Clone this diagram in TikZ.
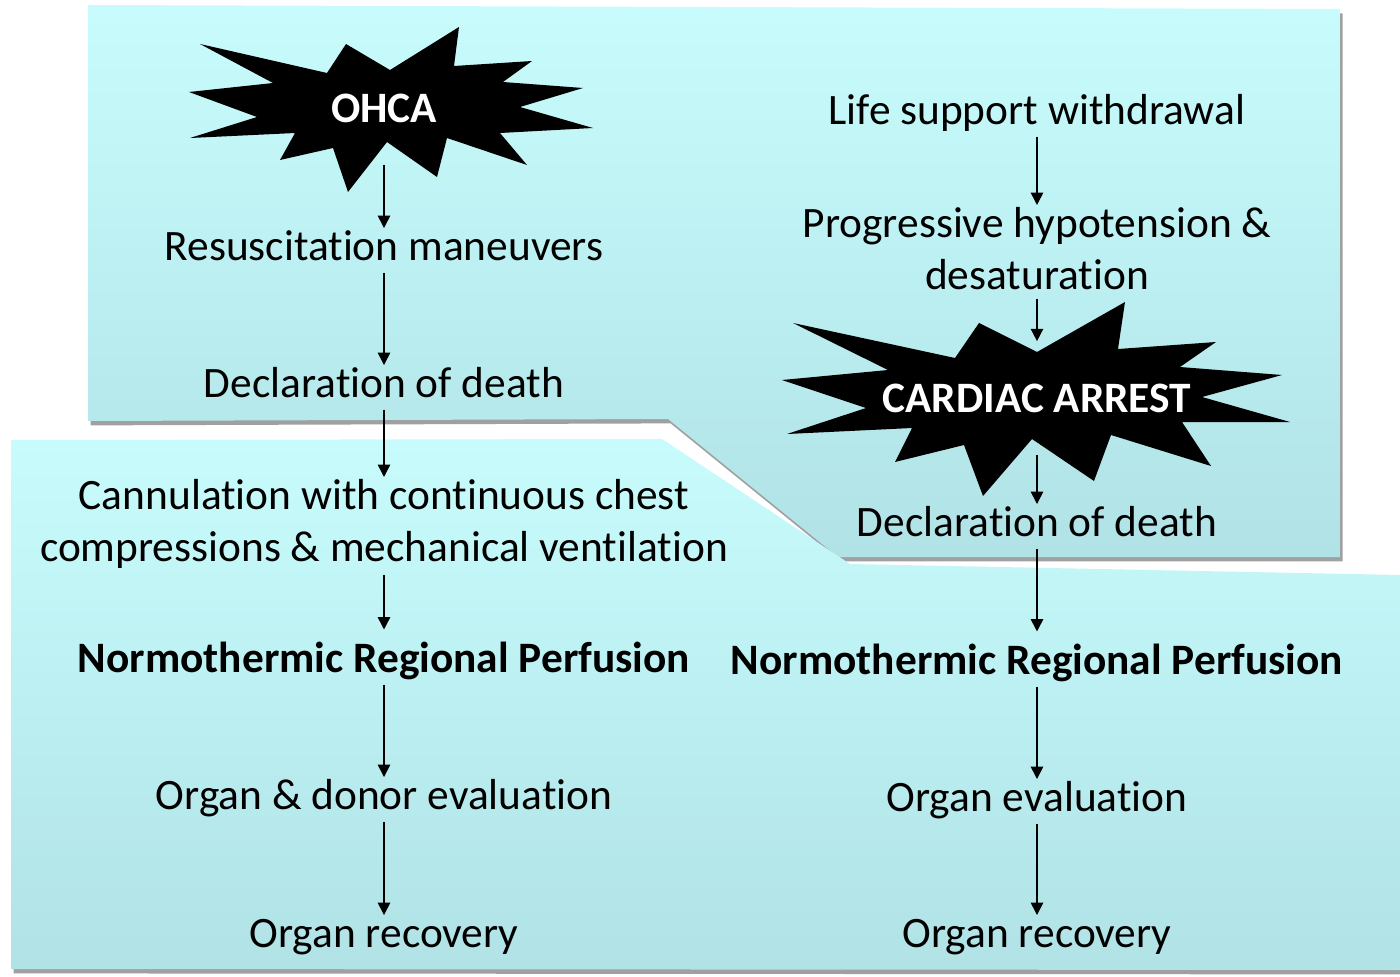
\documentclass[tikz,border=0pt]{standalone}
\usepackage{fontspec}
\setmainfont{Carlito}[Ligatures=NoCommon]
\usepackage{xcolor}
\usepackage{tikz}
\usetikzlibrary{arrows.meta, positioning, calc, shadows}

\definecolor{panelTop}{RGB}{200,252,252}
\definecolor{panelBot}{RGB}{176,226,230}
\definecolor{shadowGray}{RGB}{160,160,160}

\begin{document}
\begin{tikzpicture}[x=0.02cm, y=-0.02cm,
  txt/.style={font=\fontsize{24.7}{29.5}\selectfont, inner sep=1pt, text height=17pt, text depth=6pt},
  twoline/.style={font=\fontsize{24.7}{29.5}\selectfont, align=center, inner sep=1pt},
  nrp/.style={txt, font=\fontsize{24.7}{29.5}\selectfont\bfseries, text height=23pt},
  bursttext/.style={font=\fontsize{24.7}{29.5}\selectfont\bfseries, text=white, inner sep=0pt, minimum height=2.26cm},
  burst/.style={fill=black},
  flow/.style={-{Triangle[length=7pt,width=7pt]}, line width=0.9pt},
  panel/.style={top color=panelTop, bottom color=panelBot,
    drop shadow={shadow xshift=1.5pt, shadow yshift=-2.5pt, fill=shadowGray, opacity=1}}]

  \useasboundingbox (0,0) rectangle (1400,977);

  % Background panels
  \path[panel] (88,5) -- (1340,9) -- (1340,557) -- (838,557) -- (668,419) -- (88,421) -- cycle;
  \path[panel] (11,440) -- (662,439) -- (850,564) -- (1400,575) -- (1400,970) -- (11,969) -- cycle;

  % Bursts
  \fill[burst] (200,44) -- (327,73) -- (346,44) -- (390,70) -- (459,27) -- (454,66)
    -- (532,61) -- (503,82) -- (583,88) -- (520,107) -- (593,128) -- (500,133)
    -- (527,165) -- (447,138) -- (437,177) -- (387,142) -- (348,192) -- (333,148)
    -- (280,160) -- (295,133) -- (190,138) -- (257,117) -- (189,92) -- (273,83) -- cycle;
  \fill[burst] (793,323) -- (955,358) -- (979,323) -- (1037,352) -- (1125,302) -- (1118,349)
    -- (1216,342) -- (1180,367) -- (1282,375) -- (1202,397) -- (1290,422) -- (1182,422)
    -- (1211,466) -- (1111,435) -- (1094,481) -- (1032,439) -- (983,496) -- (964,445)
    -- (895,462) -- (912,428) -- (787,434) -- (866,408) -- (782,380) -- (888,370) -- cycle;

  % Left column (OHCA)
  \node[bursttext] (ohca) at (384,108) {OHCA};
  \node[txt, anchor=base] (resus) at (384,260) {Resuscitation maneuvers};
  \node[txt, anchor=base] (declL) at (384,397) {Declaration of death};
  \node[twoline, anchor=north] (cannul) at (384,477) {Cannulation with continuous chest\\compressions \& mechanical ventilation};
  \node[nrp, anchor=base] (nrpL) at (384,672) {Normothermic Regional Perfusion};
  \node[txt, anchor=base] (evalL) at (384,809) {Organ \& donor evaluation};
  \node[txt, anchor=base] (recovL) at (384,947) {Organ recovery};

  % Right column (withdrawal)
  \node[txt, anchor=base] (life) at (1037,124) {Life support withdrawal};
  \node[twoline, anchor=north] (prog) at (1037,205) {Progressive hypotension \&\\desaturation};
  \node[bursttext] (arrest) at (1037,398) {CARDIAC ARREST};
  \node[txt, anchor=base] (declR) at (1037,536) {Declaration of death};
  \node[nrp, anchor=base] (nrpR) at (1037,674) {Normothermic Regional Perfusion};
  \node[txt, anchor=base] (evalR) at (1037,811) {Organ evaluation};
  \node[txt, anchor=base] (recovR) at (1037,947) {Organ recovery};

  % Arrows
  \draw[flow] (ohca.south) -- (resus.north);
  \draw[flow] (resus.south) -- (declL.north);
  \draw[flow] (declL.south) -- (cannul.north);
  \draw[flow, shorten <=3pt] (cannul.south) -- (nrpL.north);
  \draw[flow] (nrpL.south) -- (evalL.north);
  \draw[flow] (evalL.south) -- (recovL.north);

  \draw[flow] (life.south) -- (prog.north);
  \draw[flow, shorten <=4pt] (prog.south) -- (arrest.north);
  \draw[flow] (arrest.south) -- (declR.north);
  \draw[flow] (declR.south) -- (nrpR.north);
  \draw[flow] (nrpR.south) -- (evalR.north);
  \draw[flow] (evalR.south) -- (recovR.north);
\end{tikzpicture}
\end{document}
